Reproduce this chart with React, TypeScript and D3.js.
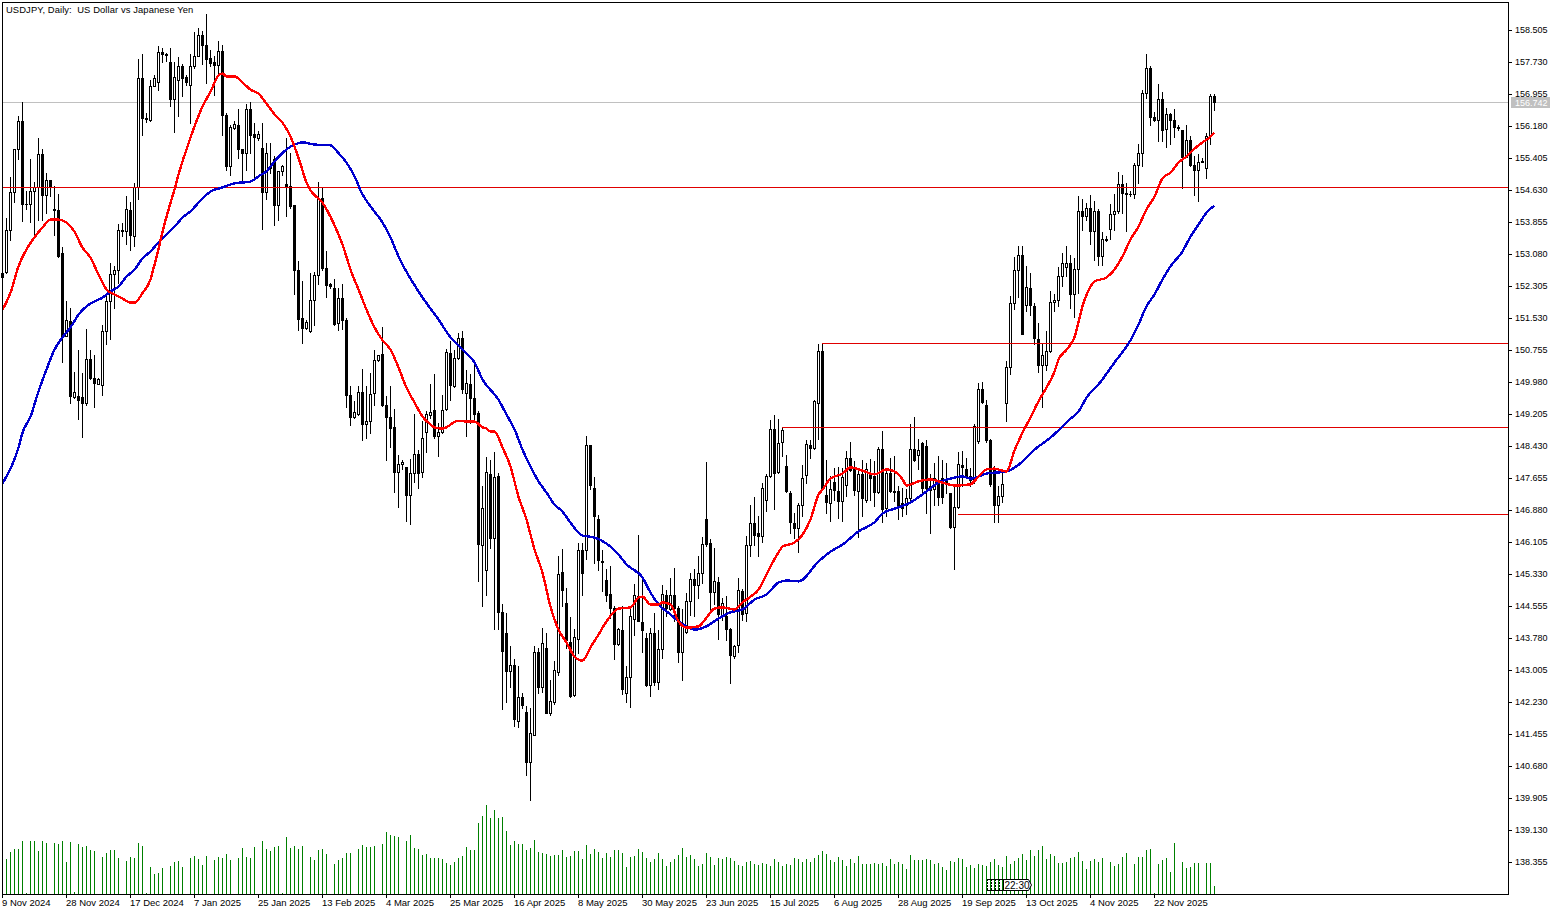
import React, { useEffect, useRef } from 'react';
import * as d3 from 'd3';

const opens = [
	152.61, 152.63, 153.66, 154.57, 155.6, 156.3, 154.29, 154.28, 154.59, 154.68,
	155.48, 154.49, 154.85, 154.16, 154.14, 153.08, 151.08, 151.44, 149.61, 149.62,
	149.61, 149.45, 150.53, 150.07, 149.93, 149.89, 151.2, 151.92, 152.59, 152.67,
	153.66, 153.62, 154.14, 153.5, 154.68, 157.33, 156.36, 156.32, 157.13, 157.24,
	157.96, 157.91, 157.72, 156.82, 157.29, 157.63, 157.36, 157.16, 157.63, 157.86,
	158.38, 158.14, 157.82, 157.72, 157.64, 157.99, 156.44, 155.19, 156.12, 156.2,
	155.62, 155.52, 156.57, 155.98, 155.88, 155.64, 154.56, 155.19, 155.36, 154.25,
	155.07, 154.77, 154.71, 154.26, 152.69, 151.52, 151.28, 151.2, 151.95, 152.56,
	154.43, 152.73, 152.33, 152.25, 151.4, 152.0, 151.48, 149.65, 149.12, 149.2,
	149.73, 148.95, 149.02, 149.7, 150.5, 150.65, 149.42, 149.11, 148.89, 147.8,
	147.97, 147.91, 147.24, 147.77, 148.23, 147.78, 148.75, 149.16, 149.28, 148.65,
	148.75, 149.32, 150.66, 149.87, 150.55, 151.04, 149.7, 149.92, 149.58, 149.22,
	146.01, 145.41, 147.74, 146.19, 147.7, 144.4, 143.89, 142.96, 143.11, 141.75,
	142.34, 141.98, 140.77, 141.43, 143.43, 142.58, 143.53, 141.94, 142.22, 142.94,
	145.37, 144.62, 143.67, 142.38, 143.75, 145.91, 145.91, 148.45, 147.4, 146.64,
	145.63, 145.18, 144.84, 144.5, 143.63, 143.97, 142.44, 142.83, 144.24, 144.78,
	144.16, 143.77, 142.62, 143.89, 142.7, 143.49, 144.82, 144.46, 144.8, 144.5,
	143.42, 143.92, 144.66, 145.2, 145.06, 145.33, 146.65, 146.07, 144.88, 145.13,
	144.32, 144.29, 143.99, 143.34, 143.59, 144.9, 144.38, 146.01, 146.56, 146.31,
	146.23, 147.1, 147.69, 148.83, 147.78, 148.51, 147.94, 147.28, 146.56, 146.43,
	147.0, 147.71, 148.45, 148.37, 149.46, 150.73, 147.24, 147.04, 147.54, 147.33,
	147.08, 147.47, 148.13, 147.85, 147.32, 147.75, 147.12, 147.77, 147.69, 147.3,
	148.35, 146.92, 147.77, 147.33, 147.33, 147.03, 146.99, 147.15, 148.35, 148.21,
	148.48, 148.41, 147.46, 147.38, 147.49, 147.65, 147.57, 147.27, 146.45, 146.95,
	147.95, 147.87, 147.69, 147.63, 148.54, 149.79, 149.42, 148.56, 147.85, 147.0,
	147.2, 149.45, 150.33, 151.87, 152.69, 153.05, 151.84, 152.25, 151.82, 151.01,
	150.39, 150.37, 150.71, 151.9, 151.95, 152.53, 152.76, 152.85, 152.09, 152.71,
	154.1, 153.98, 154.19, 153.62, 154.12, 153.01, 153.43, 153.68, 154.04, 154.1,
	154.77, 154.55, 154.53, 154.52, 155.22, 155.52, 156.97, 157.58, 156.38, 156.31,
	156.83, 156.1, 156.46, 156.31, 156.15, 156.06, 155.42, 155.84, 155.23, 155.1,
	155.32, 155.15, 155.94, 156.89,
];
const highs = [
	152.65, 153.94, 154.93, 155.62, 156.42, 156.75, 154.59, 155.36, 154.81, 155.88,
	155.6, 155.02, 154.85, 154.71, 154.51, 153.24, 151.94, 151.76, 150.2, 150.75,
	150.19, 151.24, 150.75, 150.63, 150.07, 151.36, 152.13, 152.85, 152.77, 153.8,
	153.82, 154.48, 154.32, 154.79, 157.79, 157.92, 156.49, 157.29, 157.41, 158.1,
	158.06, 157.94, 158.06, 157.72, 157.84, 157.66, 157.41, 157.9, 158.44, 158.54,
	158.46, 158.89, 158.02, 157.86, 158.22, 158.12, 156.49, 156.2, 156.3, 156.59,
	155.62, 156.69, 156.75, 156.24, 156.04, 156.24, 155.76, 155.76, 155.44, 155.09,
	155.22, 155.88, 155.52, 154.26, 152.89, 152.42, 151.48, 152.61, 152.63, 154.81,
	154.67, 153.15, 152.37, 152.46, 152.25, 152.33, 151.52, 149.87, 149.5, 149.87,
	150.29, 149.87, 150.19, 150.75, 150.63, 151.3, 149.62, 149.87, 149.32, 148.21,
	148.07, 147.91, 148.11, 149.2, 148.33, 149.03, 149.26, 149.93, 150.15, 148.98,
	149.66, 150.77, 150.96, 150.75, 151.16, 151.21, 150.27, 150.15, 150.47, 149.26,
	147.44, 148.15, 148.09, 148.27, 147.77, 144.58, 144.38, 143.58, 143.26, 143.08,
	142.44, 142.12, 142.08, 143.57, 143.53, 144.01, 143.89, 142.76, 143.21, 145.75,
	145.93, 144.98, 144.28, 143.99, 146.06, 146.06, 148.65, 148.45, 147.67, 146.74,
	145.89, 145.44, 145.52, 144.55, 144.01, 144.55, 143.08, 144.5, 145.08, 146.27,
	145.22, 143.89, 144.01, 144.38, 143.97, 145.06, 144.92, 145.22, 145.47, 144.54,
	144.46, 144.86, 145.34, 145.44, 145.75, 146.22, 148.03, 146.17, 145.95, 145.25,
	144.74, 144.78, 144.01, 143.61, 145.22, 144.96, 146.23, 146.98, 147.19, 146.72,
	147.51, 147.75, 149.04, 149.18, 149.07, 148.87, 148.19, 147.32, 146.8, 147.04,
	147.95, 148.56, 148.56, 149.54, 150.88, 150.92, 148.09, 147.69, 147.89, 147.91,
	147.89, 148.29, 148.52, 148.05, 147.89, 148.09, 148.01, 148.11, 148.05, 148.4,
	148.78, 147.89, 148.13, 148.17, 147.45, 147.41, 147.38, 148.94, 149.12, 148.58,
	148.51, 148.56, 147.73, 148.01, 148.17, 148.09, 148.01, 147.28, 147.49, 148.27,
	148.29, 148.13, 147.89, 148.94, 149.95, 149.96, 149.52, 148.58, 147.93, 147.45,
	147.77, 150.47, 152.05, 153.0, 153.26, 153.27, 152.77, 152.61, 151.87, 151.4,
	150.92, 151.2, 152.17, 152.09, 152.76, 153.08, 153.27, 153.05, 152.97, 154.47,
	154.41, 154.31, 154.49, 154.35, 154.15, 153.6, 153.5, 154.27, 154.51, 155.05,
	154.99, 154.79, 154.59, 155.27, 155.74, 157.03, 157.9, 157.62, 156.5, 157.19,
	157.0, 156.61, 156.49, 156.58, 156.2, 156.08, 156.18, 155.92, 155.44, 155.49,
	155.4, 156.0, 156.95, 156.95,
];
const lows = [
	152.5, 152.61, 153.4, 154.33, 155.36, 153.86, 154.16, 153.84, 153.5, 153.9,
	153.89, 154.06, 154.47, 153.54, 153.0, 150.45, 151.08, 149.46, 149.58, 149.07,
	148.63, 149.42, 150.03, 149.36, 149.91, 149.66, 150.89, 151.0, 151.76, 152.37,
	153.5, 153.3, 153.16, 153.26, 154.41, 155.94, 156.27, 156.3, 157.13, 157.05,
	157.72, 157.74, 156.66, 156.02, 156.42, 156.89, 157.17, 156.24, 157.57, 157.86,
	157.66, 157.21, 157.63, 156.93, 157.41, 155.94, 155.1, 154.98, 156.1, 155.4,
	154.79, 155.1, 155.52, 154.87, 155.84, 153.68, 154.4, 155.03, 153.78, 153.9,
	154.99, 153.99, 154.18, 152.09, 151.22, 150.91, 151.25, 151.17, 151.36, 152.33,
	152.67, 152.02, 152.25, 151.36, 151.22, 151.24, 149.36, 148.92, 149.1, 149.18,
	148.56, 148.61, 148.73, 149.42, 150.47, 149.38, 148.09, 148.39, 147.3, 146.93,
	147.85, 146.61, 146.53, 147.55, 147.39, 147.67, 148.27, 149.1, 148.6, 148.17,
	148.73, 149.3, 149.54, 149.84, 150.53, 149.7, 148.67, 148.98, 149.08, 145.16,
	144.54, 144.8, 145.95, 143.99, 143.99, 142.05, 142.21, 142.58, 141.63, 141.61,
	142.08, 140.44, 139.85, 141.43, 142.44, 142.45, 141.94, 141.91, 142.16, 142.86,
	144.54, 143.53, 142.34, 142.36, 143.41, 144.8, 145.67, 147.38, 145.59, 145.41,
	144.9, 144.66, 144.25, 143.27, 143.61, 142.42, 142.21, 142.1, 143.83, 144.17,
	143.42, 142.6, 142.36, 142.64, 142.53, 143.29, 144.3, 144.44, 144.17, 143.18,
	142.76, 143.89, 144.32, 144.3, 144.74, 145.1, 145.99, 144.47, 144.58, 143.75,
	144.21, 143.73, 142.68, 143.29, 143.42, 144.21, 144.19, 145.76, 146.01, 145.75,
	146.09, 146.84, 147.67, 146.9, 147.77, 148.17, 147.3, 146.31, 146.19, 145.85,
	146.72, 147.51, 148.13, 148.35, 148.58, 147.37, 146.8, 146.6, 147.12, 146.68,
	146.61, 147.2, 147.81, 147.24, 146.22, 146.72, 147.06, 147.12, 146.96, 147.28,
	146.58, 146.72, 147.31, 147.08, 146.64, 146.72, 146.76, 147.12, 148.05, 147.85,
	147.28, 146.8, 146.3, 147.0, 147.0, 147.04, 147.28, 146.44, 145.45, 146.92,
	147.45, 147.65, 147.45, 147.53, 148.5, 149.46, 148.52, 147.45, 146.57, 146.57,
	147.06, 149.02, 150.15, 151.74, 152.03, 151.12, 151.68, 151.58, 150.88, 150.21,
	149.36, 150.25, 150.69, 151.68, 151.8, 152.29, 152.53, 151.75, 151.54, 152.13,
	153.66, 153.9, 153.3, 152.93, 152.81, 152.81, 153.39, 153.43, 153.66, 154.06,
	154.06, 153.62, 154.47, 154.43, 154.79, 155.19, 156.85, 156.19, 156.3, 155.8,
	155.8, 155.65, 155.74, 155.9, 156.08, 154.67, 155.42, 155.19, 154.49, 154.35,
	155.29, 154.9, 155.72, 156.55,
];
const closes = [
	152.51, 153.66, 154.57, 155.6, 156.3, 154.28, 154.27, 154.6, 154.68, 155.48,
	154.49, 154.85, 154.68, 154.13, 153.03, 151.08, 151.48, 149.62, 149.72, 149.53,
	149.45, 150.53, 150.07, 149.95, 150.03, 151.21, 151.94, 152.59, 152.67, 153.66,
	153.62, 154.16, 153.52, 154.68, 157.33, 156.36, 156.34, 157.13, 157.33, 157.96,
	157.91, 157.88, 156.82, 157.36, 157.63, 157.32, 157.24, 157.63, 157.87, 158.38,
	158.12, 157.8, 157.7, 157.64, 157.99, 156.43, 155.19, 156.15, 156.22, 155.6,
	155.52, 156.57, 155.96, 155.9, 155.98, 154.56, 155.52, 155.15, 154.25, 155.09,
	155.19, 154.71, 154.24, 152.67, 151.5, 151.28, 151.42, 151.96, 152.57, 154.41,
	152.72, 152.31, 152.3, 151.38, 152.0, 151.46, 149.65, 149.12, 149.24, 149.73,
	148.95, 149.02, 149.68, 150.51, 150.61, 149.4, 149.11, 148.86, 147.8, 147.97,
	148.02, 147.24, 147.77, 148.23, 147.77, 148.61, 149.2, 149.24, 148.67, 148.76,
	149.3, 150.7, 149.89, 150.55, 151.04, 149.81, 149.95, 149.57, 149.2, 146.05,
	146.92, 147.78, 146.18, 147.67, 144.39, 143.45, 142.96, 143.11, 141.81, 142.34,
	142.14, 140.77, 141.47, 143.43, 142.58, 143.65, 141.95, 142.24, 142.99, 145.32,
	144.92, 143.73, 142.36, 143.79, 145.91, 145.33, 148.45, 147.47, 146.72, 145.65,
	145.61, 144.82, 144.49, 143.63, 143.99, 142.53, 142.83, 144.31, 144.82, 144.17,
	143.97, 142.62, 143.89, 142.7, 143.49, 144.84, 144.5, 144.81, 144.5, 143.42,
	144.05, 144.66, 145.2, 145.06, 145.34, 146.05, 146.05, 144.88, 145.14, 144.34,
	144.62, 143.99, 143.35, 143.57, 144.92, 144.35, 146.01, 146.56, 146.27, 146.23,
	147.4, 147.7, 148.83, 147.77, 148.49, 148.8, 147.32, 146.58, 146.43, 147.0,
	147.65, 148.47, 148.36, 149.5, 150.72, 147.41, 147.06, 147.38, 147.35, 147.08,
	147.67, 148.13, 147.83, 147.35, 147.75, 147.16, 147.87, 147.65, 147.3, 148.35,
	146.9, 147.77, 147.33, 147.31, 146.96, 146.92, 147.16, 148.35, 148.08, 148.33,
	147.39, 147.41, 147.36, 147.65, 147.18, 147.18, 147.49, 146.45, 146.95, 147.99,
	147.91, 147.69, 147.59, 148.9, 149.79, 149.48, 148.56, 147.49, 147.0, 147.2,
	147.49, 150.34, 151.88, 152.69, 153.04, 151.14, 152.27, 151.83, 151.03, 150.39,
	150.62, 150.71, 151.91, 151.95, 152.53, 152.85, 152.85, 152.09, 152.71, 154.1,
	153.98, 154.19, 153.62, 154.1, 153.01, 153.43, 153.41, 154.04, 154.1, 154.77,
	154.54, 154.52, 154.51, 155.22, 155.52, 156.97, 157.58, 156.38, 156.32, 156.83,
	156.08, 156.46, 156.31, 156.14, 156.13, 155.42, 155.84, 155.22, 155.1, 155.29,
	155.3, 155.92, 156.89, 156.742,
];
// relative tick volume, the panel has no axis of its own
const volumes = [
	0, 35, 42, 45, 45, 53, 1, 53, 53, 43,
	53, 51, 0, 51, 50, 53, 32, 52, 2, 50,
	47, 48, 44, 43, 0, 37, 41, 44, 44, 36,
	0, 33, 37, 36, 51, 48, 1, 27, 20, 21,
	26, 0, 28, 32, 33, 27, 0, 36, 38, 35,
	29, 38, 0, 34, 37, 36, 40, 34, 0, 36,
	46, 37, 36, 47, 0, 53, 45, 43, 47, 48,
	1, 57, 46, 48, 45, 48, 0, 37, 34, 44,
	45, 40, 0, 30, 34, 36, 41, 41, 0, 45,
	49, 47, 47, 48, 0, 50, 62, 59, 58, 57,
	0, 53, 59, 46, 45, 39, 40, 36, 36, 36,
	35, 31, 29, 32, 36, 38, 47, 44, 44, 71,
	78, 89, 76, 84, 76, 77, 63, 49, 53, 50,
	50, 44, 46, 54, 42, 41, 40, 38, 39, 39,
	44, 37, 38, 43, 43, 35, 49, 40, 45, 42,
	36, 41, 37, 44, 44, 41, 27, 37, 38, 45,
	42, 36, 32, 35, 41, 35, 28, 32, 35, 39,
	46, 37, 39, 35, 28, 30, 41, 37, 29, 36,
	35, 37, 36, 33, 29, 28, 32, 33, 30, 29,
	31, 30, 28, 35, 32, 28, 30, 29, 36, 35,
	32, 35, 32, 36, 39, 43, 40, 34, 32, 37,
	34, 28, 35, 31, 38, 30, 30, 30, 31, 30,
	31, 28, 35, 30, 32, 30, 25, 39, 34, 34,
	34, 35, 34, 30, 31, 27, 24, 33, 32, 36,
	35, 27, 29, 26, 30, 29, 28, 32, 35, 29,
	27, 38, 30, 33, 36, 40, 34, 44, 38, 44,
	48, 35, 40, 38, 31, 31, 32, 36, 37, 42,
	33, 25, 33, 35, 32, 36, 0, 32, 28, 30,
	37, 41, 0, 30, 37, 37, 44, 45, 1, 30,
	34, 36, 22, 51, 0, 32, 26, 27, 31, 31,
	0, 31, 31, 8,
];

const fastBars = [
	0, 2, 4, 6, 8, 10, 12, 14, 16, 18, 20, 22, 24, 26, 28, 30, 32, 33, 35, 37, 38, 39, 40, 41, 42, 43, 44, 45, 46, 48,
	50, 52, 54, 55, 56, 58, 60, 62, 64, 66, 68, 70, 72, 74, 76, 77, 80, 82, 84, 85, 87, 89, 91, 93, 95, 97, 99, 101, 103, 105,
	107, 108, 110, 114, 116, 118, 120, 121, 122, 123, 125, 127, 129, 131, 133, 135, 137, 139, 141, 143, 145, 147, 149, 151, 154, 157, 159, 160, 162, 164,
	165, 167, 169, 171, 174, 176, 178, 180, 183, 185, 187, 189, 190, 192, 194, 195, 198, 200, 202, 204, 205, 207, 210, 212, 215, 218, 221, 223, 225, 226,
	229, 232, 235, 238, 242, 244, 246, 248, 251, 253, 255, 257, 259, 261, 263, 264, 266, 268, 270, 272, 273, 276, 278, 280, 282, 284, 286, 288, 290, 292,
	294, 296, 298, 300, 302, 303,
];
const fastValues = [
	151.72, 152.13, 152.77, 153.18, 153.47, 153.71, 153.9, 153.9, 153.83, 153.61, 153.22, 152.98, 152.57, 152.21, 152.09, 151.99, 151.89, 151.89, 152.12, 152.45, 152.81, 153.18, 153.61, 153.97, 154.31, 154.63, 154.99, 155.31, 155.6, 156.16,
	156.64, 157.0, 157.39, 157.44, 157.37, 157.37, 157.22, 157.05, 156.95, 156.71, 156.45, 156.25, 155.91, 155.4, 154.8, 154.61, 154.31, 153.97, 153.54, 153.3, 152.69, 152.21, 151.72, 151.29, 150.98, 150.75, 150.32, 149.83, 149.47, 149.13,
	148.94, 148.87, 148.84, 149.03, 149.01, 149.01, 148.87, 148.84, 148.77, 148.77, 148.38, 147.92, 147.19, 146.64, 145.91, 145.35, 144.53, 143.97, 143.66, 143.32, 143.22, 143.54, 143.85, 144.17, 144.48, 144.51, 144.75, 144.77, 144.58, 144.58,
	144.63, 144.58, 144.17, 144.02, 144.05, 144.26, 144.48, 144.51, 144.46, 144.63, 144.77, 144.94, 145.11, 145.5, 145.84, 145.98, 146.08, 146.27, 146.64, 147.24, 147.36, 147.63, 147.75, 147.9, 147.82, 147.73, 147.85, 147.8, 147.61, 147.46,
	147.56, 147.61, 147.53, 147.46, 147.49, 147.68, 147.85, 147.87, 147.8, 148.31, 148.74, 149.11, 149.5, 149.83, 150.22, 150.51, 150.75, 151.05, 151.8, 152.28, 152.4, 152.5, 152.69, 153.01, 153.42, 153.73, 154.15, 154.46, 154.9, 155.04,
	155.28, 155.43, 155.62, 155.77, 155.91, 156.01,
];
const slowBars = [
	0, 4, 5, 7, 9, 11, 13, 15, 17, 19, 21, 23, 25, 27, 29, 31, 33, 35, 37, 39, 41, 43, 45, 47, 49, 52, 55, 58, 62, 64,
	66, 68, 71, 73, 75, 78, 82, 84, 86, 88, 90, 92, 95, 97, 99, 104, 109, 112, 115, 118, 120, 124, 126, 128, 130, 132, 134, 136, 138, 140,
	142, 145, 148, 152, 154, 156, 160, 162, 164, 167, 169, 171, 173, 176, 179, 182, 185, 188, 191, 194, 196, 199, 204, 207, 210, 214, 218, 220, 224, 227,
	231, 234, 237, 240, 242, 246, 251, 255, 258, 262, 265, 267, 269, 271, 274, 278, 282, 284, 286, 288, 290, 292, 295, 297, 299, 301, 303,
];
const slowValues = [
	147.51, 148.38, 148.74, 149.13, 149.74, 150.27, 150.75, 151.05, 151.29, 151.6, 151.8, 151.92, 152.01, 152.16, 152.28, 152.52, 152.69, 152.96, 153.13, 153.35, 153.54, 153.73, 153.95, 154.1, 154.31, 154.58, 154.68, 154.78, 154.82, 154.95,
	155.07, 155.31, 155.6, 155.72, 155.77, 155.72, 155.7, 155.51, 155.28, 154.95, 154.51, 154.22, 153.83, 153.47, 153.01, 152.16, 151.48, 151.05, 150.75, 150.44, 150.03, 149.54, 149.18, 148.82, 148.33, 147.92, 147.56, 147.29, 147.0, 146.83,
	146.56, 146.25, 146.2, 145.98, 145.79, 145.55, 145.23, 144.87, 144.58, 144.34, 144.17, 144.05, 143.97, 144.05, 144.24, 144.39, 144.46, 144.7, 144.82, 145.11, 145.16, 145.14, 145.62, 145.86, 146.03, 146.35, 146.57, 146.78, 146.93, 147.05,
	147.32, 147.53, 147.63, 147.68, 147.63, 147.75, 147.8, 148.04, 148.33, 148.62, 148.89, 149.08, 149.25, 149.59, 149.91, 150.44, 150.98, 151.36, 151.8, 152.09, 152.45, 152.77, 153.13, 153.49, 153.78, 154.07, 154.24,
];

const priceTicks = [
	'158.505', '157.730', '156.955', '156.180', '155.405', '154.630', '153.855', '153.080', '152.305', '151.530',
	'150.755', '149.980', '149.205', '148.430', '147.655', '146.880', '146.105', '145.330', '144.555', '143.780',
	'143.005', '142.230', '141.455', '140.680', '139.905', '139.130', '138.355',
];
const dateLabels = [
	'9 Nov 2024', '28 Nov 2024', '17 Dec 2024', '7 Jan 2025', '25 Jan 2025', '13 Feb 2025', '4 Mar 2025', '25 Mar 2025',
	'16 Apr 2025', '8 May 2025', '30 May 2025', '23 Jun 2025', '15 Jul 2025', '6 Aug 2025', '28 Aug 2025', '19 Sep 2025',
	'13 Oct 2025', '4 Nov 2025', '22 Nov 2025',
];
const levelPrices = [154.7, 150.92, 148.88, 146.77];
const levelStartBars = [0, 205, 195, 239];
const lastPrice = 156.742;
const barsPerLabel = 16;

const FONT = '"Liberation Sans", Arial, sans-serif';

const App: React.FC = () => {
	const ref = useRef<SVGSVGElement | null>(null);

	useEffect(() => {
		if (!ref.current) return;
		const svg = d3.select(ref.current);
		svg.selectAll('*').remove();

		const width = 1561;
		const height = 915;
		const frame = { top: 2, right: 1508, bottom: 894, left: 2 };

		const x = d3.scaleLinear().domain([0, 303]).range([2, 1214]);
		const y = d3.scaleLinear().domain([158.505, 138.355]).range([29.5, 861.5]);
		const yVol = d3.scaleLinear().domain([0, 89]).range([frame.bottom, 805]);
		const px = (i: number) => Math.round(x(i));
		const py = (p: number) => Math.round(y(p));

		svg.append('rect').attr('width', width).attr('height', height).attr('fill', '#fff');

		const crisp = svg.append('g').attr('shape-rendering', 'crispEdges');

		// current price line sits behind the candles
		crisp.append('line')
			.attr('x1', frame.left).attr('x2', frame.right)
			.attr('y1', py(lastPrice) + 0.5).attr('y2', py(lastPrice) + 0.5)
			.attr('stroke', '#c0c0c0');

		crisp.append('g').selectAll('line')
			.data(volumes)
			.join('line')
			.attr('x1', (_, i) => px(i) + 0.5)
			.attr('x2', (_, i) => px(i) + 0.5)
			.attr('y1', frame.bottom)
			.attr('y2', (d) => Math.round(yVol(d)))
			.attr('stroke', '#008000');

		const idx = d3.range(opens.length);
		const candles = crisp.append('g').selectAll('g').data(idx).join('g');
		candles.append('line')
			.attr('x1', (i) => px(i) + 0.5)
			.attr('x2', (i) => px(i) + 0.5)
			.attr('y1', (i) => py(highs[i]))
			.attr('y2', (i) => py(lows[i]) + 1)
			.attr('stroke', '#000');
		candles.append('rect')
			.attr('x', (i) => (closes[i] >= opens[i] ? px(i) - 0.5 : px(i) - 1))
			.attr('width', (i) => (closes[i] >= opens[i] ? 2 : 3))
			.attr('y', (i) => {
				const top = py(Math.max(opens[i], closes[i]));
				return closes[i] >= opens[i] ? top + 0.5 : top;
			})
			.attr('height', (i) => {
				const h = py(Math.min(opens[i], closes[i])) - py(Math.max(opens[i], closes[i]));
				return closes[i] >= opens[i] ? Math.max(h, 1) : Math.max(h + 1, 1);
			})
			.attr('fill', (i) => (closes[i] >= opens[i] ? '#fff' : '#000'))
			.attr('stroke', (i) => (closes[i] >= opens[i] ? '#000' : 'none'));

		crisp.append('g').selectAll('line')
			.data(levelPrices)
			.join('line')
			.attr('x1', (_, i) => (levelStartBars[i] === 0 ? frame.left : px(levelStartBars[i])))
			.attr('x2', frame.right)
			.attr('y1', (d) => py(d) + 0.5)
			.attr('y2', (d) => py(d) + 0.5)
			.attr('stroke', '#e00000');

		const fastLine = d3.line<number>()
			.x((b) => x(b) + 0.5)
			.y((_, i) => y(fastValues[i]))
			.curve(d3.curveMonotoneX);
		const slowLine = d3.line<number>()
			.x((b) => x(b) + 0.5)
			.y((_, i) => y(slowValues[i]))
			.curve(d3.curveMonotoneX);

		svg.append('path').attr('d', slowLine(slowBars)).attr('fill', 'none').attr('stroke', '#0000cd').attr('stroke-width', 2.4).attr('shape-rendering', 'crispEdges');
		svg.append('path').attr('d', fastLine(fastBars)).attr('fill', 'none').attr('stroke', '#ff0000').attr('stroke-width', 2.4).attr('shape-rendering', 'crispEdges');

		// frame and price axis
		const axes = svg.append('g').attr('shape-rendering', 'crispEdges');
		axes.append('rect')
			.attr('x', frame.left + 0.5).attr('y', frame.top + 0.5)
			.attr('width', frame.right - frame.left).attr('height', frame.bottom - frame.top)
			.attr('fill', 'none').attr('stroke', '#000');

		priceTicks.forEach((t) => {
			const ty = Math.round(y(+t) + 0.01);
			axes.append('line').attr('x1', frame.right).attr('x2', frame.right + 4).attr('y1', ty + 0.5).attr('y2', ty + 0.5).attr('stroke', '#000');
			svg.append('text').attr('x', frame.right + 7).attr('y', ty + 3).attr('font-family', FONT).attr('font-size', 9).attr('fill', '#000').text(t);
		});

		dateLabels.forEach((t, k) => {
			const tx = px(k * barsPerLabel);
			axes.append('line').attr('x1', tx + 0.5).attr('x2', tx + 0.5).attr('y1', frame.bottom).attr('y2', frame.bottom + 4).attr('stroke', '#000');
			svg.append('text').attr('x', tx).attr('y', 906).attr('font-family', FONT).attr('font-size', 9.5).attr('fill', '#000').text(t);
		});

		// last price tag
		svg.append('rect').attr('x', 1511).attr('y', py(lastPrice) - 5).attr('width', 39).attr('height', 11).attr('fill', '#c0c0c0').attr('shape-rendering', 'crispEdges');
		svg.append('text').attr('x', 1515).attr('y', py(lastPrice) + 3.5).attr('font-family', FONT).attr('font-size', 9).attr('fill', '#fff').text(lastPrice.toFixed(3));

		svg.append('text').attr('x', 6).attr('y', 13).attr('font-family', FONT).attr('font-size', 9.4).attr('letter-spacing', 0.1).attr('fill', '#000').attr('xml:space', 'preserve').text('USDJPY, Daily:  US Dollar vs Japanese Yen');

		// stacked time tags near the bottom of the chart
		const tags = svg.append('g').attr('shape-rendering', 'crispEdges');
		[987, 991, 995, 999].forEach((tx) => {
			tags.append('line').attr('x1', tx + 0.5).attr('x2', tx + 0.5).attr('y1', 879).attr('y2', 891).attr('stroke', '#000').attr('stroke-dasharray', '2 1');
		});
		tags.append('line').attr('x1', 987).attr('x2', 1004).attr('y1', 879.5).attr('y2', 879.5).attr('stroke', '#000');
		tags.append('line').attr('x1', 987).attr('x2', 1004).attr('y1', 890.5).attr('y2', 890.5).attr('stroke', '#000');
		svg.append('path')
			.attr('d', 'M1003.5,879.5 L1028.5,879.5 L1031.5,885 L1028.5,890.5 L1003.5,890.5 Z')
			.attr('fill', '#fff').attr('stroke', '#000');
		svg.append('text').attr('x', 1004.5).attr('y', 889).attr('font-family', FONT).attr('font-size', 10).attr('fill', '#000').text('22:30');
	}, []);

	return <svg ref={ref} width={1561} height={915} viewBox="0 0 1561 915" style={{ position: 'absolute', left: 0, top: 0, display: 'block' }} />;
};

export default App;
